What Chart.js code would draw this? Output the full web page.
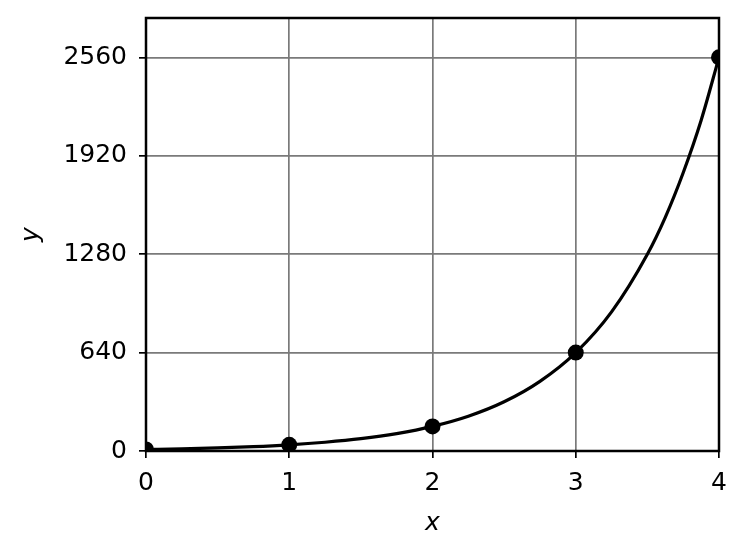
<!DOCTYPE html>
<html>
<head>
<meta charset="utf-8">
<script src="https://cdn.jsdelivr.net/npm/chart.js@4"></script>
<style>
  html, body { margin: 0; padding: 0; background: #fff; }
  #wrap { width: 747px; height: 555px; }
</style>
</head>
<body>
<div id="wrap"><canvas id="chart"></canvas></div>
<script>
// marked points
const pointX = [0, 1, 2, 3, 4];
const pointY = [10, 40, 160, 640, 2560];

// curve
const curveX = [0, 0.25, 0.5, 0.75, 1, 1.25, 1.5, 1.75, 2, 2.25, 2.5, 2.75, 3, 3.25, 3.5, 3.625, 3.75, 3.875, 4];
const curveY = [10, 14, 20, 28, 40, 57, 80, 113, 160, 226, 320, 453, 640, 905, 1280, 1520, 1810, 2150, 2560];

const xTicks = [0, 1, 2, 3, 4];
const yTicks = [0, 640, 1280, 1920, 2560];

const FONT = "'DejaVu Sans', sans-serif";

// axes frame drawn above the data, like matplotlib spines
const framePlugin = {
    id: 'frame',
    afterDatasetsDraw(chart) {
        const a = chart.chartArea;
        const ctx = chart.ctx;
        ctx.save();
        ctx.strokeStyle = '#000';
        ctx.lineWidth = 2.5;
        ctx.strokeRect(a.left, a.top, a.right - a.left, a.bottom - a.top);
        ctx.restore();
    }
};

const ctx = document.getElementById('chart').getContext('2d');

new Chart(ctx, {
    type: 'scatter',
    data: {
        datasets: [
            {
                data: curveX.map((x, i) => ({ x: x, y: curveY[i] })),
                showLine: true,
                borderColor: '#000',
                borderWidth: 3.2,
                pointRadius: 0,
                cubicInterpolationMode: 'monotone',
                clip: 0
            },
            {
                data: pointX.map((x, i) => ({ x: x, y: pointY[i] })),
                showLine: false,
                pointRadius: 8,
                pointBackgroundColor: '#000',
                pointBorderWidth: 0,
                clip: 0
            }
        ]
    },
    plugins: [framePlugin],
    options: {
        responsive: true,
        maintainAspectRatio: false,
        animation: false,
        layout: { padding: { top: 18, right: 28, left: 0, bottom: 0 } },
        plugins: {
            legend: { display: false },
            tooltip: { enabled: false }
        },
        scales: {
            x: {
                type: 'linear',
                min: 0,
                max: 4,
                afterBuildTicks: (s) => { s.ticks = xTicks.map(v => ({ value: v })); },
                afterFit: (s) => {
                    s.height = 104;
                    s.paddingLeft = 0;
                    s.paddingRight = 0;
                },
                grid: {
                    color: '#7a7a7a',
                    lineWidth: 1.7,
                    tickColor: '#000',
                    tickLength: 7,
                    tickWidth: 1.7
                },
                border: { display: false },
                ticks: {
                    color: '#000',
                    padding: 10,
                    callback: (v) => String(v),
                    font: { family: FONT, size: 25 }
                },
                title: {
                    display: true,
                    text: 'x',
                    color: '#000',
                    padding: { top: 2, bottom: 17 },
                    font: { family: FONT, size: 25, style: 'italic' }
                }
            },
            y: {
                type: 'linear',
                min: 0,
                max: 2816,
                afterBuildTicks: (s) => { s.ticks = yTicks.map(v => ({ value: v })); },
                afterFit: (s) => {
                    s.width = 146;
                    s.paddingTop = 0;
                    s.paddingBottom = 0;
                },
                grid: {
                    color: '#7a7a7a',
                    lineWidth: 1.7,
                    tickColor: '#000',
                    tickLength: 7,
                    tickWidth: 1.7
                },
                border: { display: false },
                ticks: {
                    color: '#000',
                    padding: 12,
                    callback: (v) => String(v),
                    font: { family: FONT, size: 25 }
                },
                title: {
                    display: true,
                    text: 'y',
                    color: '#000',
                    padding: { top: 16, bottom: 0 },
                    font: { family: FONT, size: 25, style: 'italic' }
                }
            }
        }
    }
});
</script>
</body>
</html>
